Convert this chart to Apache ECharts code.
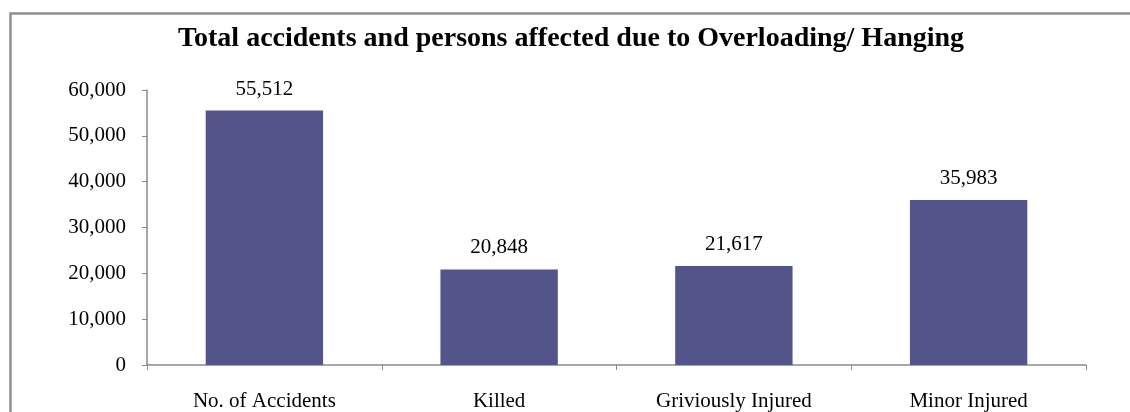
<!DOCTYPE html>
<html>
<head>
<meta charset="utf-8">
<script src="https://cdn.jsdelivr.net/npm/echarts@6/dist/echarts.min.js"></script>
<style>
  html, body { margin: 0; padding: 0; background: #fff; }
  #chart { width: 1130px; height: 412px; }
</style>
</head>
<body>
<div id="chart"></div>
<script>
// Accident totals by outcome
const categories = ['No. of Accidents', 'Killed', 'Griviously Injured', 'Minor Injured'];
const values = [55512, 20848, 21617, 35983];
const yTicks = { min: 0, max: 60000, interval: 10000 };
const titleText = 'Total accidents and persons affected due to Overloading/ Hanging';

const serif = '"Liberation Serif", "Times New Roman", serif';
const axisGray = '#8a8a8a';

const chart = echarts.init(document.getElementById('chart'), null, { renderer: 'canvas' });

chart.setOption({
  backgroundColor: '#ffffff',
  animation: false,
  title: {
    text: titleText,
    left: 566,
    textAlign: 'center',
    top: 20,
    textStyle: { fontFamily: serif, fontWeight: 'bold', fontSize: 28, color: '#000' }
  },
  graphic: [{
    type: 'rect',
    shape: { x: 10.5, y: 13.5, width: 1200, height: 500 },
    style: { fill: 'none', stroke: '#8f8f8f', lineWidth: 2.5 },
    silent: true
  }],
  grid: { left: 147, right: 44, top: 90, bottom: 46, containLabel: false },
  xAxis: {
    type: 'category',
    data: categories,
    axisLine: { lineStyle: { color: axisGray, width: 1.5 } },
    axisTick: { show: true, length: 5, alignWithLabel: false, lineStyle: { color: axisGray } },
    axisLabel: { fontFamily: serif, fontSize: 21, color: '#000', margin: 26 },
    splitLine: { show: false }
  },
  yAxis: {
    type: 'value',
    min: yTicks.min,
    max: yTicks.max,
    interval: yTicks.interval,
    axisLine: { show: true, lineStyle: { color: axisGray, width: 1.5 } },
    axisTick: { show: true, length: 5, lineStyle: { color: axisGray } },
    axisLabel: {
      fontFamily: serif, fontSize: 21, color: '#000', margin: 21,
      formatter: v => v.toLocaleString('en-US')
    },
    splitLine: { show: false }
  },
  series: [{
    type: 'bar',
    data: values,
    barCategoryGap: '50%',
    itemStyle: { color: '#53548a' },
    label: {
      show: true,
      position: 'top',
      distance: 11,
      fontFamily: serif,
      fontSize: 21,
      color: '#000',
      formatter: p => p.value.toLocaleString('en-US')
    }
  }]
});
</script>
</body>
</html>
